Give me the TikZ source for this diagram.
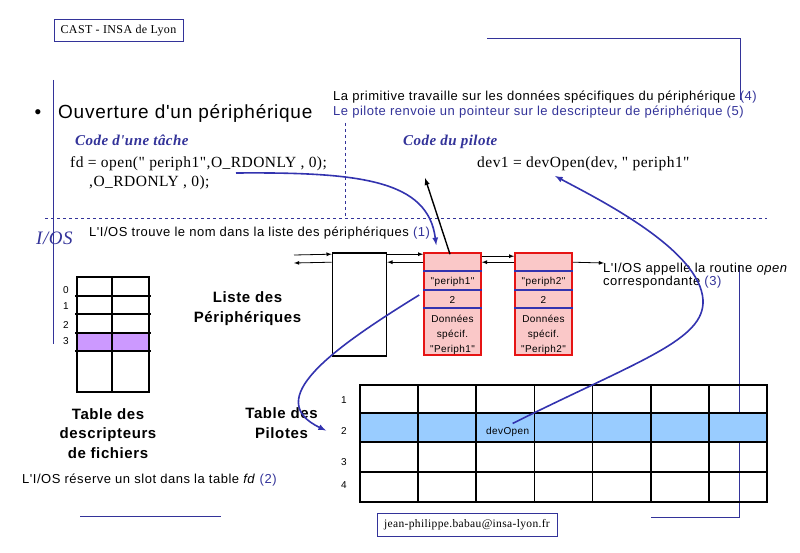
\documentclass[tikz,border=0pt]{standalone}
\usepackage{fontspec}
\setmainfont{Liberation Serif}[LetterSpace=3, Ligatures=TeXOff]
\setsansfont{Liberation Sans}[LetterSpace=4, Ligatures=TeXOff]
\usetikzlibrary{arrows}

\definecolor{bleuf}{RGB}{51,51,153}
\definecolor{bleuc}{RGB}{51,51,175}
\definecolor{rosep}{RGB}{250,200,200}
\definecolor{mauve}{RGB}{204,153,255}
\definecolor{ciel}{RGB}{153,204,255}
\definecolor{rouge}{RGB}{230,20,20}

\tikzset{
  note/.style={font=\sffamily\fontsize{13}{15}\selectfont, anchor=base west, inner sep=0pt},
  code/.style={font=\fontsize{15.5}{18}\selectfont, anchor=base west, inner sep=0pt},
  entete/.style={font=\bfseries\itshape\fontsize{15}{18}\selectfont, text=bleuf, anchor=base west, inner sep=0pt},
  titre/.style={font=\sffamily\bfseries\fontsize{15}{19.5}\selectfont, align=center, anchor=base, inner sep=0pt},
  petit/.style={font=\sffamily\fontsize{10}{15}\selectfont, anchor=base, inner sep=0pt},
  cadre/.style={draw=bleuf, line width=1pt, inner sep=0pt},
  trait/.style={bleuf, line width=0.8pt},
  fleche/.style={draw=bleuc, line width=1.6pt, -latex},
  lien/.style={line width=0.8pt, -latex},
  periph/.style={draw=rouge, fill=rosep, line width=1.6pt, minimum width=57pt, minimum height=102pt, inner sep=0pt}
}

\begin{document}
\begin{tikzpicture}[x=1pt, y=-1pt]
  \useasboundingbox (0,0) rectangle (800,553);

  % cadre de la page
  \node[cadre, minimum width=129pt, minimum height=22pt, font=\fontsize{12}{14}\selectfont] (cast) at (118.5,31) {CAST - INSA de Lyon};
  \draw[trait] (53,80) -- (53,344);
  \draw[trait] (487,38) -- (740,38) -- (740,100);
  \draw[trait] (80,516) -- (221,516);
  \draw[trait] (739,265) -- (739,517) -- (651,517);

  % titre
  \node[font=\sffamily\fontsize{19}{24}\selectfont, anchor=base, inner sep=0pt] (puce) at (38,119) {\textbullet};
  \node[font=\sffamily\fontsize{19}{24}\selectfont, anchor=base west, inner sep=0pt] (titre) at (58,119) {Ouverture d'un périphérique};

  % etapes (4) et (5)
  \node[note] (prim) at (333,101) {La primitive travaille sur les données spécifiques du périphérique \textcolor{bleuf}{(4)}};
  \node[note, text=bleuf] (renvoi) at (333,116) {Le pilote renvoie un pointeur sur le descripteur de périphérique (5)};

  % code
  \node[entete] (tache) at (75,146) {Code d'une tâche};
  \node[code] (open) at (70,168) {fd = open(" periph1",O\_RDONLY , 0);};
  \node[code] (open2) at (89,187) {,O\_RDONLY , 0);};
  \node[entete] (pilote) at (403,146) {Code du pilote};
  \node[code] (devcode) at (477,168) {dev1 = devOpen(dev, " periph1"};

  % separations
  \draw[bleuf, dashed, line width=0.7pt] (345,123) -- (345,218);
  \draw[bleuf, dashed, line width=0.7pt] (45,218) -- (767,218);

  \node[font=\itshape\fontsize{19}{22}\selectfont, text=bleuf, anchor=base west, inner sep=0pt] (ios) at (36,245) {I/OS};
  \node[note] (trouve) at (89,237) {L'I/OS trouve le nom dans la liste des périphériques \textcolor{bleuf}{(1)}};

  % table des descripteurs de fichiers
  \fill[mauve] (77,333) rectangle (149,351);
  \draw[line width=1.6pt] (77,277) rectangle (149,392);
  \draw[line width=1.6pt] (112,277) -- (112,392);
  \foreach \y in {296,314,333,351}
    \draw[line width=1.6pt] (75,\y) -- (151,\y);
  \foreach \i/\y in {0/293,1/309,2/328,3/344}
    \node[petit] (fd\i) at (66,\y) {\i};
  \node[titre] (tdesc) at (108,458) {Table des\\descripteurs\\de fichiers};
  \node[note] (reserve) at (22,483) {L'I/OS réserve un slot dans la table \textit{fd} \textcolor{bleuf}{(2)}};

  % liste des peripheriques
  \node[titre] (tliste) at (247.5,322) {Liste des\\Périphériques};
  \node[draw, fill=white, line width=1.6pt, minimum width=54pt, minimum height=103pt] (liste) at (359.5,304.5) {};
  \foreach \n/\x in {1/452.5,2/543.5} {
    \node[periph] (p\n) at (\x,304) {};
    \foreach \y in {271,290,308}
      \draw[bleuc, line width=1.4pt] (p\n.west |- 0,\y) -- (p\n.east |- 0,\y);
    \node[petit] (nom\n) at (\x,284) {"periph\n"};
    \node[petit] (num\n) at (\x,303) {2};
    \node[petit, align=center] (don\n) at (\x,352) {Données\\spécif.\\"Periph\n"};
  }

  % chainage
  \coordinate (g1) at (294,255);
  \coordinate (g2) at (294,263);
  \coordinate (d1) at (604,263);
  \draw[lien] (g1) -- ([yshift=-2pt]liste.north west);
  \draw[lien] ([yshift=-10pt]liste.north west) -- (g2);
  \draw[lien] ([yshift=-2pt]liste.north east) -- ([yshift=-2pt]p1.north west);
  \draw[lien] ([yshift=-10pt]p1.north west) -- ([yshift=-10pt]liste.north east);
  \draw[lien] ([yshift=-4pt]p1.north east) -- ([yshift=-4pt]p2.north west);
  \draw[lien] ([yshift=-10pt]p2.north west) -- ([yshift=-10pt]p1.north east);
  \draw[lien] ([yshift=-10pt]p2.north east) -- (d1);

  \node[note, align=left, font=\sffamily\fontsize{13}{13.5}\selectfont] (appel) at (603,286) {L'I/OS appelle la routine \textit{open}\\correspondante \textcolor{bleuf}{(3)}};

  % table des pilotes
  \fill[ciel] (360,413) rectangle (767,442);
  \foreach \i in {1,...,6}
    \draw[line width=1.6pt] (360+58.14*\i,385) -- (360+58.14*\i,502);
  \foreach \y in {413,442,472}
    \draw[line width=1.6pt] (360,\y) -- (767,\y);
  \draw[line width=1.6pt] (360,385) rectangle (767,502);
  \foreach \i/\y in {1/403,2/434,3/465,4/488}
    \node[petit] (pil\i) at (344,\y) {\i};
  \node[petit, anchor=base west] (dev) at (486,434) {devOpen};
  \node[titre] (tpil) at (281.5,438) {Table des\\Pilotes};

  \node[cadre, minimum width=180pt, minimum height=23pt, font=\fontsize{11.5}{14}\selectfont] (mail) at (467,525) {jean-philippe.babau@insa-lyon.fr};

  % fleches
  \coordinate (c1) at (236,173);
  \coordinate (retour) at (425,178);
  \coordinate (c3) at (555,176);
  \draw[line width=1.4pt, -latex] ([shift={(-2.5,2)}]p1.north) -- (retour);
  \draw[fleche] (c1) .. controls (360,172) and (428,180) .. ([shift={(13,-7)}]p1.north west);
  \draw[fleche] ([shift={(-4,-9)}]p1.west) .. controls (330,350) and (262,400) .. ([xshift=-15pt]pil2.west);
  \draw[fleche] ([shift={(5,-8)}]dev.center) .. controls (640,360) and (705,340) .. (703,300)
    .. controls (700,250) and (600,200) .. (c3);
\end{tikzpicture}
\end{document}
